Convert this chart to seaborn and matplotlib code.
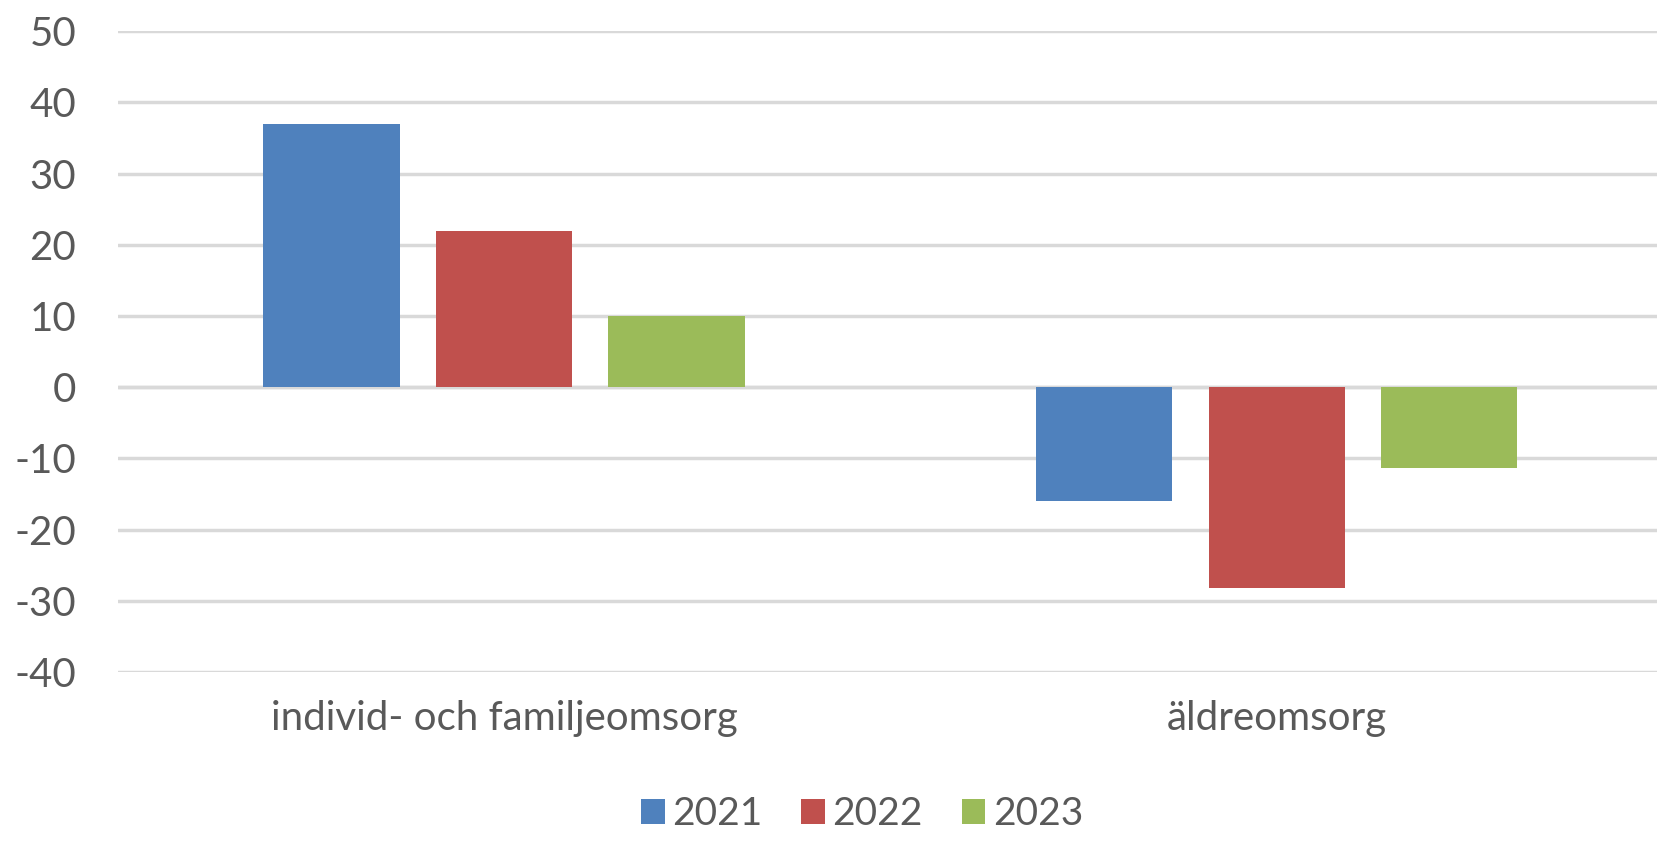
import pandas as pd
import matplotlib
matplotlib.use("Agg")
import matplotlib.pyplot as plt
import seaborn as sns

categories = ["individ- och familjeomsorg", "äldreomsorg"]
years = ["2021", "2022", "2023"]
values_2021 = [37, -16]
values_2022 = [22, -28.2]
values_2023 = [10, -11.3]

colors = ["#4F81BD", "#C0504D", "#9BBB59"]

df = pd.DataFrame({
    "kategori": categories * 3,
    "år": [y for y in years for _ in categories],
    "värde": values_2021 + values_2022 + values_2023,
})

sns.set_style("white")
plt.rcParams["font.family"] = ["Lato", "DejaVu Sans"]
plt.rcParams["axes.unicode_minus"] = False

fig = plt.figure(figsize=(16.58, 8.42), dpi=100)
ax = fig.add_axes([0.071, 0.202, 0.932, 0.761])

sns.barplot(data=df, x="kategori", y="värde", hue="år", palette=colors,
            width=0.67, gap=0.21, saturation=1, linewidth=0, ax=ax, zorder=3)

ax.set_ylim(-40, 50)
ax.set_yticks(range(-40, 51, 10))
ax.yaxis.grid(True, color="#d9d9d9", linewidth=2.5, zorder=0)
ax.set_axisbelow(True)
ax.axhline(0, color="#d9d9d9", linewidth=2.5, zorder=1)
sns.despine(ax=ax, left=True, bottom=True)
ax.set_xlabel("")
ax.set_ylabel("")
ax.tick_params(axis="both", length=0, labelcolor="#595959")
ax.tick_params(axis="y", pad=30, labelsize=29)
ax.tick_params(axis="x", pad=20, labelsize=29)
for lab in ax.get_yticklabels():
    lab.set_horizontalalignment("right")

handles, labels = ax.get_legend_handles_labels()
ax.legend_.remove()
leg = fig.legend(handles, labels, loc="lower center", bbox_to_anchor=(0.52, -0.03),
                 ncol=3, frameon=False, fontsize=28, handlelength=0.6, handleheight=0.6,
                 handletextpad=0.2, columnspacing=1.0, labelcolor="#595959")

fig.savefig("out.png", dpi=100)
